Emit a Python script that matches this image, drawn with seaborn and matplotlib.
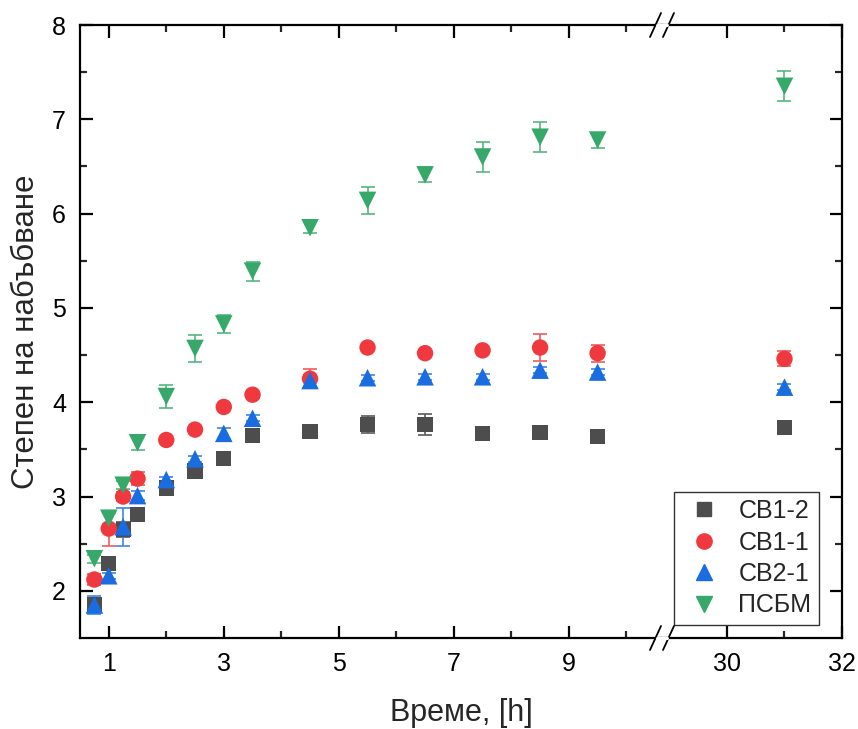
import numpy as np
import pandas as pd
import matplotlib
matplotlib.use("Agg")
import matplotlib.pyplot as plt
import seaborn as sns

# ---- data ----
time = [0.75, 1.0, 1.25, 1.5, 2.0, 2.5, 3.0, 3.5, 4.5, 5.5, 6.5, 7.5, 8.5, 9.5, 31.0]
series_names = ["СВ1-2", "СВ1-1", "СВ2-1", "ПСБМ"]
cb12 = [1.85, 2.29, 2.65, 2.81, 3.09, 3.27, 3.40, 3.65, 3.69, 3.76, 3.76, 3.67, 3.68, 3.64, 3.73]
cb12_err = [0.06, 0.04, 0.08, 0.04, 0.03, 0.03, 0.03, 0.03, 0.03, 0.09, 0.11, 0.02, 0.02, 0.06, 0.03]
cb11 = [2.12, 2.66, 3.00, 3.19, 3.60, 3.71, 3.95, 4.08, 4.25, 4.58, 4.52, 4.55, 4.58, 4.52, 4.46]
cb11_err = [0.06, 0.18, 0.05, 0.07, 0.03, 0.03, 0.03, 0.03, 0.10, 0.03, 0.03, 0.03, 0.14, 0.09, 0.08]
cb21 = [1.85, 2.16, 2.68, 3.01, 3.18, 3.40, 3.67, 3.83, 4.23, 4.26, 4.27, 4.27, 4.34, 4.32, 4.16]
cb21_err = [0.10, 0.03, 0.20, 0.05, 0.03, 0.03, 0.06, 0.03, 0.06, 0.03, 0.03, 0.03, 0.03, 0.03, 0.03]
psbm = [2.34, 2.77, 3.12, 3.57, 4.06, 4.57, 4.83, 5.39, 5.85, 6.14, 6.41, 6.60, 6.81, 6.78, 7.35]
psbm_err = [0.04, 0.06, 0.04, 0.08, 0.12, 0.14, 0.10, 0.10, 0.06, 0.14, 0.08, 0.16, 0.16, 0.08, 0.16]

values = [cb12, cb11, cb21, psbm]
errors = [cb12_err, cb11_err, cb21_err, psbm_err]
colors = ["#4d4d4d", "#f0393f", "#1a6de0", "#36a96a"]
err_colors = ["#5a5a5a", "#f05a5e", "#3f86e6", "#55b880"]
markers = ["s", "o", "^", "v"]
msizes = [120, 140, 160, 160]

frames = []
for name, v, e in zip(series_names, values, errors):
    frames.append(pd.DataFrame({"t": time, "y": v, "err": e, "series": name}))
df = pd.concat(frames, ignore_index=True)

sns.set_style("ticks")
plt.rcParams["font.family"] = ["Liberation Sans", "DejaVu Sans"]

fig = plt.figure(figsize=(8.58, 7.29), dpi=100)
L, R, B, T = 80 / 858, 842 / 858, 1 - 638 / 729, 1 - 25 / 729
brk = 662 / 858
ax1 = fig.add_axes([L, B, brk - L, T - B])
ax2 = fig.add_axes([brk, B, R - brk, T - B], sharey=ax1)

for ax in (ax1, ax2):
    for name, c, ec, m, s in zip(series_names, colors, err_colors, markers, msizes):
        d = df[df["series"] == name]
        ax.errorbar(d["t"], d["y"], yerr=d["err"], fmt="none", ecolor=ec,
                    elinewidth=1.2, capsize=5, capthick=1.2, zorder=2)
        sns.scatterplot(data=d, x="t", y="y", ax=ax, color=c, marker=m, s=s,
                        edgecolor="none", zorder=3, legend=False)

ax1.set_xlim(0.5, 10.62)
ax2.set_xlim(28.87, 32.0)
ax1.set_ylim(1.5, 8)

ax1.set_xticks([1, 3, 5, 7, 9])
ax1.set_xticks([2, 4, 6, 8, 10], minor=True)
ax2.set_xticks([30, 32])
ax2.set_xticks([31], minor=True)
ax1.set_yticks([2, 3, 4, 5, 6, 7, 8])
ax1.set_yticks([2.5, 3.5, 4.5, 5.5, 6.5, 7.5], minor=True)

for ax in (ax1, ax2):
    for sp in ax.spines.values():
        sp.set_linewidth(1.6)
        sp.set_color("black")
    ax.tick_params(which="major", direction="in", length=9, width=1.6,
                   top=True, labelsize=18, colors="black")
    ax.tick_params(which="minor", direction="in", length=5, width=1.6, top=True)
    ax.tick_params(axis="x", which="major", pad=10)
    ax.tick_params(axis="y", which="major", pad=10)
    ax.set_xlabel("")
    ax.set_ylabel("")

ax1.spines["right"].set_visible(False)
ax1.tick_params(axis="y", which="both", right=False, left=True)
ax2.spines["left"].set_visible(False)
ax2.tick_params(axis="y", which="both", left=False, right=True, labelleft=False, labelright=False)

ax1.set_ylabel("Степен на набъбване", fontsize=22.5, labelpad=8)
fig.text((L + R) / 2, 1 - 721 / 729, "Време, [h]", ha="center", va="baseline", fontsize=22)

# break marks
for yb in (B, T):
    for dx in (-12, 1):
        x0 = brk + dx / 858
        fig.add_artist(plt.Line2D([x0, x0 + 11 / 858], [yb - 12 / 729, yb + 12 / 729],
                                  color="black", lw=1.3, transform=fig.transFigure))
    fig.add_artist(plt.Line2D([brk - 5 / 858, brk + 5 / 858], [yb, yb],
                              color="white", lw=2.2, transform=fig.transFigure, zorder=5))

handles = [plt.Line2D([], [], ls="none", marker=m, color=c, markersize=ms)
           for m, c, ms in zip(markers, colors, [10, 11, 12, 12])]
leg = ax2.legend(handles, series_names, loc="lower right",
                 bbox_to_anchor=(1.0 - 23 / 180, 13 / 613),
                 frameon=True, fancybox=False, fontsize=18, handletextpad=0.5,
                 labelspacing=0.3, borderpad=0.3, handlelength=1.8, borderaxespad=0)
leg.get_frame().set_edgecolor("black")
leg.get_frame().set_linewidth(1.0)

fig.savefig("out.png", dpi=100)
